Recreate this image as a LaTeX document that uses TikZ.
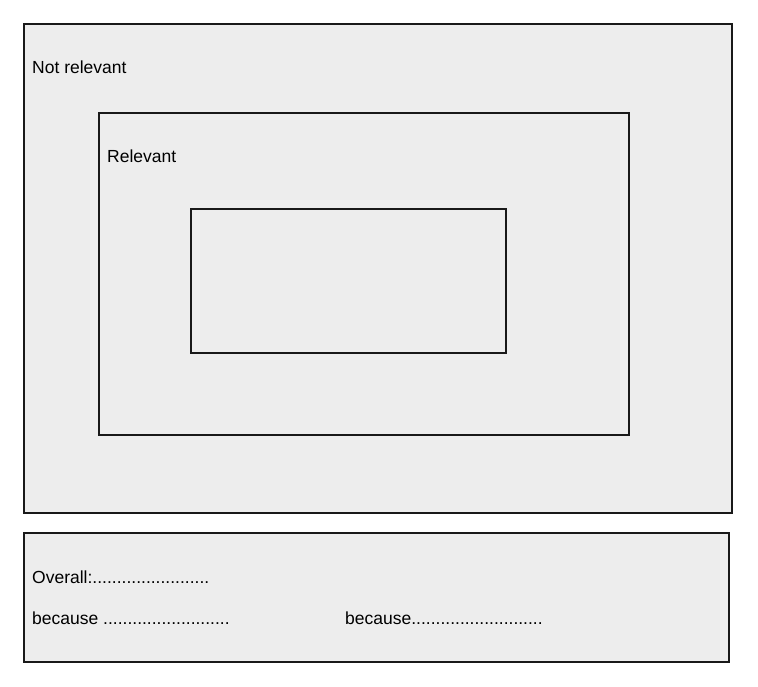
\documentclass[tikz,border=0pt]{standalone}
\usepackage{fontspec}
\setmainfont{Liberation Sans}
\tikzset{
    panel/.style={draw=black!90, fill=black!7, line width=1.2pt},
    lbl/.style={anchor=base west, inner sep=0pt, font=\fontsize{17.5}{20}\selectfont},
  }

\begin{document}
\begin{tikzpicture}[x=1pt,y=-1pt]
				  \useasboundingbox[fill=white] (0,0) rectangle (758,687);

				  %OUTER BOX
				  \coordinate (O1) at (24,24);
				  \coordinate (O2) at (732,513);
				  \draw[panel] (O1) rectangle (O2);
				  \node[lbl] (notrel) at (32,74) {Not relevant};

				  %MIDDLE BOX
				  \coordinate (M1) at (99,113);
				  \coordinate (M2) at (629,435);
				  \draw[panel] (M1) rectangle (M2);
				  \node[lbl] (rel) at (107,163) {Relevant};

				  %INNER BOX
				  \coordinate (I1) at (191,209);
				  \coordinate (I2) at (506,353);
				  \draw[panel] (I1) rectangle (I2);

				  %BOTTOM BOX
				  \coordinate (B1) at (24,533);
				  \coordinate (B2) at (729,662);
				  \draw[panel] (B1) rectangle (B2);
				  \node[lbl] (overall) at (32,583) {Overall:........................};
				  \node[lbl] (because1) at (32,624) {because ..........................};
				  \node[lbl] (because2) at (345,624) {because...........................};
\end{tikzpicture}
\end{document}
